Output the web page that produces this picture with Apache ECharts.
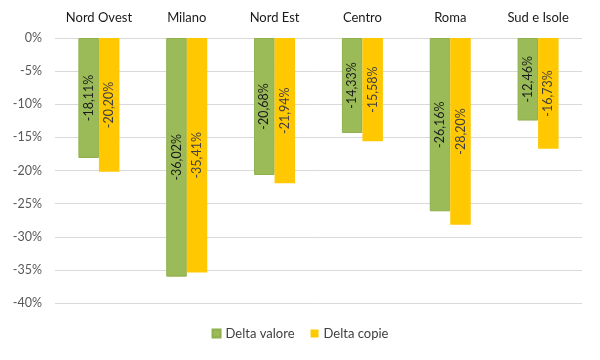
<!DOCTYPE html>
<html>
<head>
<meta charset="utf-8">
<script src="https://cdn.jsdelivr.net/npm/echarts@6/dist/echarts.min.js"></script>
<style>html,body{margin:0;padding:0;background:#fff}#c{width:600px;height:360px}</style>
</head>
<body>
<div id="c"></div>
<script>
const categories = ['Nord Ovest', 'Milano', 'Nord Est', 'Centro', 'Roma', 'Sud e Isole'];
const deltaValore = [-18.11, -36.02, -20.68, -14.33, -26.16, -12.46];
const deltaCopie = [-20.20, -35.41, -21.94, -15.58, -28.20, -16.73];
const seriesNames = ['Delta valore', 'Delta copie'];

const FONT = 'Lato, "Open Sans", sans-serif';
const fmt = v => v.toFixed(2).replace('.', ',') + '%';

const chart = echarts.init(document.getElementById('c'), null, {renderer: 'canvas'});
chart.setOption({
  animation: false,
  textStyle: {fontFamily: FONT},
  grid: {left: 55, right: 18, top: 38, bottom: 57},
  legend: {
    bottom: 15, left: 'center',
    itemWidth: 8, itemHeight: 8, itemGap: 16,
    icon: 'rect',
    textStyle: {fontFamily: FONT, fontSize: 13, color: '#404040'},
    data: seriesNames
  },
  xAxis: {
    type: 'category',
    position: 'top',
    data: categories,
    axisLine: {show: false},
    axisTick: {show: false},
    axisLabel: {fontFamily: FONT, fontSize: 13, color: '#1a1a1a', margin: 14}
  },
  yAxis: {
    type: 'value',
    min: -40, max: 0, interval: 5,
    axisLine: {show: false},
    axisTick: {show: false},
    splitLine: {lineStyle: {color: '#d9d9d9', width: 1}},
    axisLabel: {fontFamily: FONT, fontSize: 12.5, color: '#595959', margin: 13, formatter: v => v + '%'}
  },
  series: [
    {
      name: seriesNames[0], type: 'bar', data: deltaValore,
      barWidth: 20.5, barGap: '0%',
      itemStyle: {color: '#9BBB59', borderColor: '#8EB04B', borderWidth: 1},
      label: {show: true, position: 'inside', rotate: 90, fontFamily: FONT, fontSize: 12.5, color: '#1a1a1a',
        formatter: p => fmt(p.value)}
    },
    {
      name: seriesNames[1], type: 'bar', data: deltaCopie,
      barWidth: 20.5,
      itemStyle: {color: '#FFC800'},
      label: {show: true, position: 'inside', rotate: 90, fontFamily: FONT, fontSize: 12.5, color: '#404040',
        formatter: p => fmt(p.value)}
    }
  ]
});
</script>
</body>
</html>
